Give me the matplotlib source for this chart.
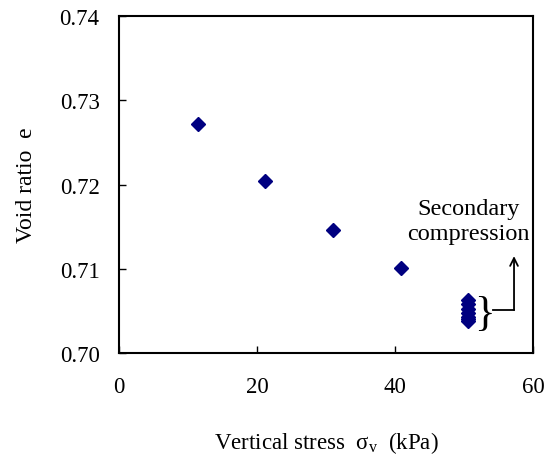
import matplotlib.pyplot as plt

plt.rcParams["font.family"] = ["Liberation Serif", "DejaVu Serif"]
plt.rcParams["mathtext.fontset"] = "custom"
plt.rcParams["mathtext.rm"] = "Liberation Serif"
plt.rcParams["mathtext.it"] = "Liberation Serif:italic"

# Oedometer loading steps: vertical stress (kPa) and void ratio
stress = [11.4, 21.2, 31.0, 40.9]
void_ratio = [0.7272, 0.7204, 0.7146, 0.7101]

# Readings held at the last load step (secondary compression)
creep_stress = [50.6, 50.6, 50.6, 50.6, 50.6, 50.6, 50.6]
creep_void = [0.7063, 0.7058, 0.7052, 0.7047, 0.7043, 0.7040, 0.7038]

FS = 16.5

fig = plt.figure(figsize=(5.47, 4.56), dpi=100)
ax = fig.add_axes([0.2176, 0.2237, 0.7568, 0.739])

ax.plot(stress, void_ratio, "D", color="#000080", ms=7, mec="#000080")
ax.plot(creep_stress, creep_void, "D", color="#000080", ms=7, mec="#000080")

ax.set_xlim(0, 60)
ax.set_ylim(0.70, 0.74)
ax.set_xticks([0, 20, 40, 60])
ax.set_yticks([0.70, 0.71, 0.72, 0.73, 0.74])
ax.set_yticklabels(["0.70", "0.71", "0.72", "0.73", "0.74"])
ax.tick_params(axis="x", direction="in", length=5, width=1, pad=16.3, labelsize=FS)
ax.tick_params(axis="y", direction="in", length=5, width=1, pad=14, labelsize=FS)
for s in ax.spines.values():
    s.set_linewidth(1.5)

ax.set_xlabel(r"Vertical stress  σ$_\mathrm{v}$  (kPa)", fontsize=FS, labelpad=23)
ax.set_ylabel("Void ratio  e", fontsize=17, labelpad=16)

# brace around the creep readings, then a leader up to the note
ax.text(51.4, 0.7046, "}", fontsize=31, ha="left", va="center")
ax.plot([54.2, 57.25], [0.7051, 0.7051], color="black", lw=1.3)
ax.annotate("", xy=(57.25, 0.7115), xytext=(57.25, 0.7051),
            arrowprops=dict(arrowstyle="->", color="black", lw=1.3,
                            mutation_scale=14, shrinkA=0, shrinkB=0))
ax.text(50.6, 0.7157, "Secondary\ncompression", fontsize=17.5,
        ha="center", va="center", multialignment="center", linespacing=1.25)

fig.savefig("out.png", dpi=100)
